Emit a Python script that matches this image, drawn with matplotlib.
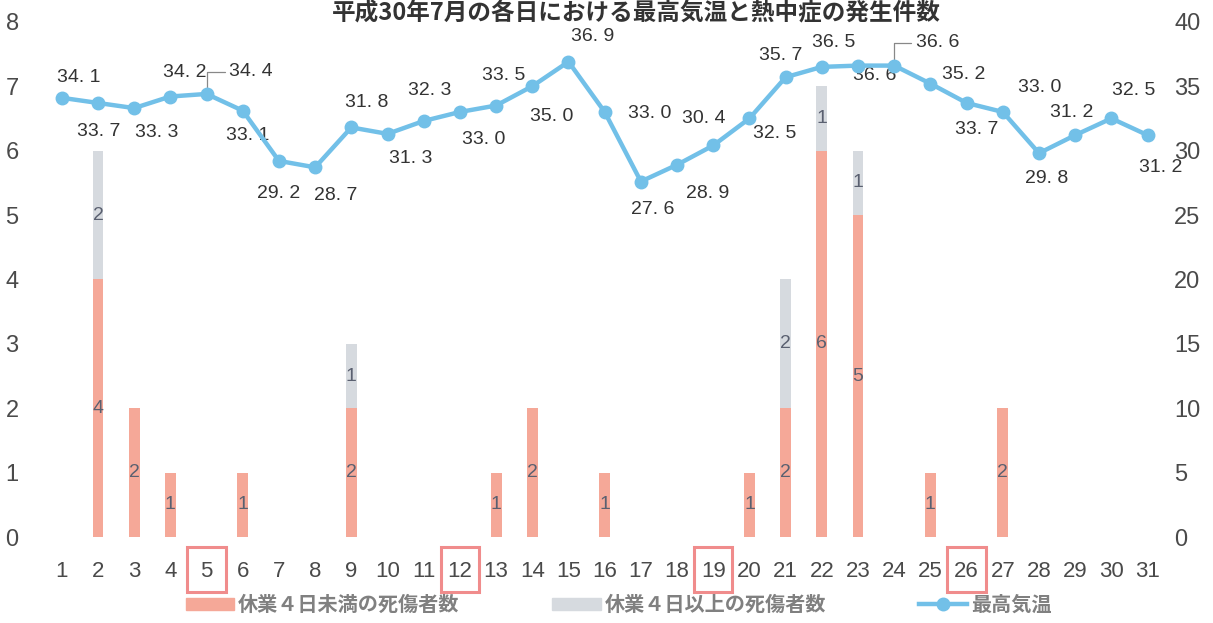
import matplotlib
matplotlib.use('Agg')
import matplotlib.pyplot as plt
from matplotlib.patches import Rectangle, Patch
from matplotlib.lines import Line2D
import matplotlib.transforms as mtransforms

# data: July 2018, daily max temperature and heatstroke cases
days = list(range(1, 32))
temp = [34.1, 33.7, 33.3, 34.2, 34.4, 33.1, 29.2, 28.7, 31.8, 31.3,
        32.3, 33.0, 33.5, 35.0, 36.9, 33.0, 27.6, 28.9, 30.4, 32.5,
        35.7, 36.5, 36.6, 36.6, 35.2, 33.7, 33.0, 29.8, 31.2, 32.5, 31.2]
under4 = [0, 4, 2, 1, 0, 1, 0, 0, 2, 0,
          0, 0, 1, 2, 0, 1, 0, 0, 0, 1,
          2, 6, 5, 0, 1, 0, 2, 0, 0, 0, 0]
over4 = [0, 2, 0, 0, 0, 0, 0, 0, 1, 0,
         0, 0, 0, 0, 0, 0, 0, 0, 0, 0,
         2, 1, 1, 0, 0, 0, 0, 0, 0, 0, 0]
sundays = [5, 12, 19, 26]

title = '平成30年7月の各日における最高気温と熱中症の発生件数'
lbl_under = '休業４日未満の死傷者数'
lbl_over = '休業４日以上の死傷者数'
lbl_temp = '最高気温'

# label offsets for temperature values (pixels: dx, dy up)
offs = [(17, 20), (1, -29), (23, -24), (14, 24), (44, 22), (5, -25), (0, -33),
        (21, -28), (15, 25), (23, -25), (6, 30), (24, -28), (8, 30), (19, -30),
        (24, 25), (45, -2), (12, -28), (31, -29), (-10, 27), (25, -15), (-5, 22),
        (12, 24), (17, -10), (43, 23), (33, 9), (10, -27), (37, 24), (8, -25),
        (-4, 23), (22, 28), (13, -32)]
leader_days = [5, 24]

num_font = ['Liberation Sans Narrow', 'Liberation Sans', 'DejaVu Sans']
jp_font = ['Noto Sans CJK JP', 'DejaVu Sans']

c_under = '#f5a898'
c_over = '#d6dadf'
c_line = '#72c0e8'
c_tick = '#4a4a4a'

fig = plt.figure(figsize=(12.13, 6.23), dpi=100)
ax = fig.add_axes([0.036, 0.138, 0.925, 0.827])
ax2 = ax.twinx()

ax.bar(days, under4, width=0.3, color=c_under, zorder=2)
ax.bar(days, over4, width=0.3, bottom=under4, color=c_over, zorder=2)

for d, u, o in zip(days, under4, over4):
    if u > 0:
        ax.text(d, u / 2, str(u), ha='center', va='center', fontsize=14,
                color='#5a6070', family=num_font, zorder=3)
    if o > 0:
        ax.text(d, u + o / 2, str(o), ha='center', va='center', fontsize=14,
                color='#5a6070', family=num_font, zorder=3)

ax2.plot(days, temp, color=c_line, lw=3.2, marker='o', markersize=9,
         markeredgecolor=c_line, zorder=4)

for d, t, (dx, dy) in zip(days, temp, offs):
    s = f'{t:.1f}'.replace('.', '. ')
    if d in leader_days:
        ax2.annotate(s, (d, t), xytext=(dx, dy), textcoords='offset pixels',
                     ha='center', va='center', fontsize=14, color='#333333',
                     family=num_font,
                     arrowprops=dict(arrowstyle='-', color='#888888', lw=0.9,
                                     shrinkA=1, shrinkB=5,
                                     connectionstyle='angle,angleA=0,angleB=90,rad=0'))
    else:
        ax2.annotate(s, (d, t), xytext=(dx, dy), textcoords='offset pixels',
                     ha='center', va='center', fontsize=14, color='#333333',
                     family=num_font)

ax.set_xlim(0.5, 31.5)
ax.set_ylim(0, 8)
ax2.set_ylim(0, 40)
ax.set_xticks(days)
ax.set_yticks(range(0, 9))
ax2.set_yticks(range(0, 41, 5))

for a in (ax, ax2):
    for sp in a.spines.values():
        sp.set_visible(False)
    a.tick_params(length=0, labelsize=17, labelcolor=c_tick)
ax.tick_params(axis='x', labelsize=16, pad=17)
ax.tick_params(axis='y', pad=18)
ax2.tick_params(axis='y', pad=6)
for lab in ax.get_xticklabels() + ax.get_yticklabels() + ax2.get_yticklabels():
    lab.set_family(num_font)

# red boxes around Sundays
trans = mtransforms.blended_transform_factory(ax.transData, ax.transAxes)
for d in sundays:
    ax.add_patch(Rectangle((d - 0.53, -0.107), 1.06, 0.088, transform=trans,
                           fill=False, edgecolor='#f08c8c', lw=2.2, clip_on=False))

fig.text(0.525, 0.997, title, ha='center', va='top', fontsize=17,
         fontweight='bold', color='#333333', family=jp_font)

handles = [Patch(color=c_under), Patch(color=c_over),
           Line2D([], [], color=c_line, lw=3.2, marker='o', markersize=9)]
leg = fig.legend(handles, [lbl_under, lbl_over, lbl_temp], loc='center',
                 bbox_to_anchor=(0.51, 0.03), ncol=3, frameon=False,
                 handlelength=2.4, handleheight=0.55, columnspacing=4.6,
                 handletextpad=0.2, prop={'family': jp_font, 'size': 14.5,
                                          'weight': 'bold'})
for t in leg.get_texts():
    t.set_color('#808080')

fig.savefig('out.png', dpi=100)
